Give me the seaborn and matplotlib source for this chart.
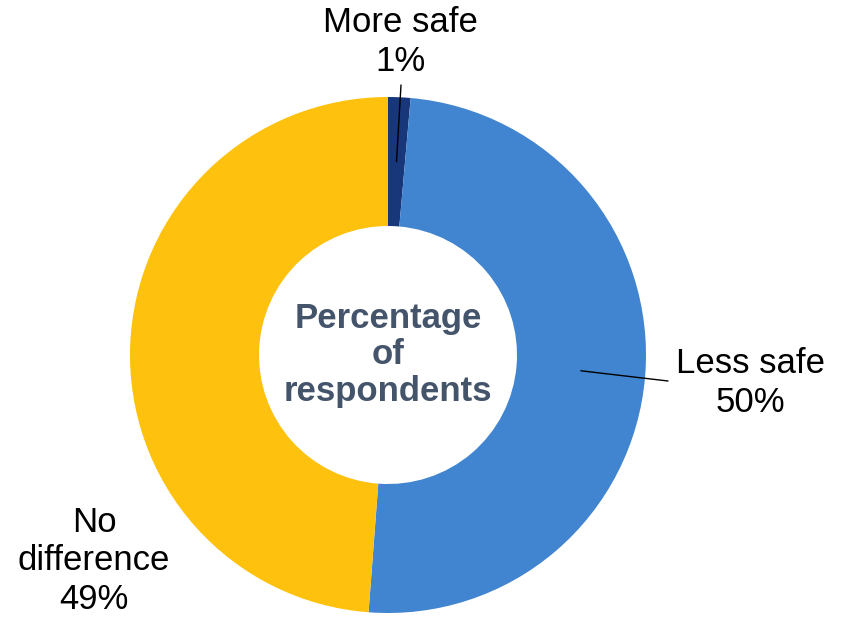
import matplotlib.pyplot as plt
import seaborn as sns
import numpy as np

sns.set_style('white')
plt.rcParams['font.family'] = ['Liberation Sans', 'DejaVu Sans']

# data
categories = ['More safe', 'Less safe', 'No difference']
values = [1.4, 49.8, 48.8]
pct_labels = ['1%', '50%', '49%']
colors = ['#17377A', '#4184CF', '#FDC10E']

W, H = 846, 618
cx, cy = 388, H - 355
R = 258
ring = 129

fig = plt.figure(figsize=(W / 100, H / 100), dpi=100)
ax = fig.add_axes([0, 0, 1, 1])

wedges, _ = ax.pie(values, colors=colors, startangle=90, counterclock=False,
                   radius=R, center=(cx, cy), frame=True,
                   wedgeprops=dict(width=ring, linewidth=0))
ax.set_xlim(0, W)
ax.set_ylim(0, H)
ax.set_aspect('equal')
ax.axis('off')

# label positions (pixel coords from top) and leader line ends
text_pos = [(400, 42), (750, 383), (94, 561)]
leader_end = [(401, 85), (668, 381), None]

for w, cat, pct, (tx, ty), le in zip(wedges, categories, pct_labels, text_pos, leader_end):
    label = cat.replace('No difference', 'No\ndifference') + '\n' + pct
    ax.text(tx, H - ty, label, ha='center', va='center', fontsize=25,
            linespacing=1.22, color='black')
    if le is not None:
        ang = np.deg2rad((w.theta1 + w.theta2) / 2)
        rr = R - ring / 2
        ax.plot([cx + rr * np.cos(ang), le[0]], [cy + rr * np.sin(ang), H - le[1]],
                color='black', lw=1)

ax.text(cx, cy, 'Percentage\nof\nrespondents', ha='center', va='center',
        fontsize=25, fontweight='bold', color='#44546A', linespacing=1.12)

fig.savefig('out.png', dpi=100)
